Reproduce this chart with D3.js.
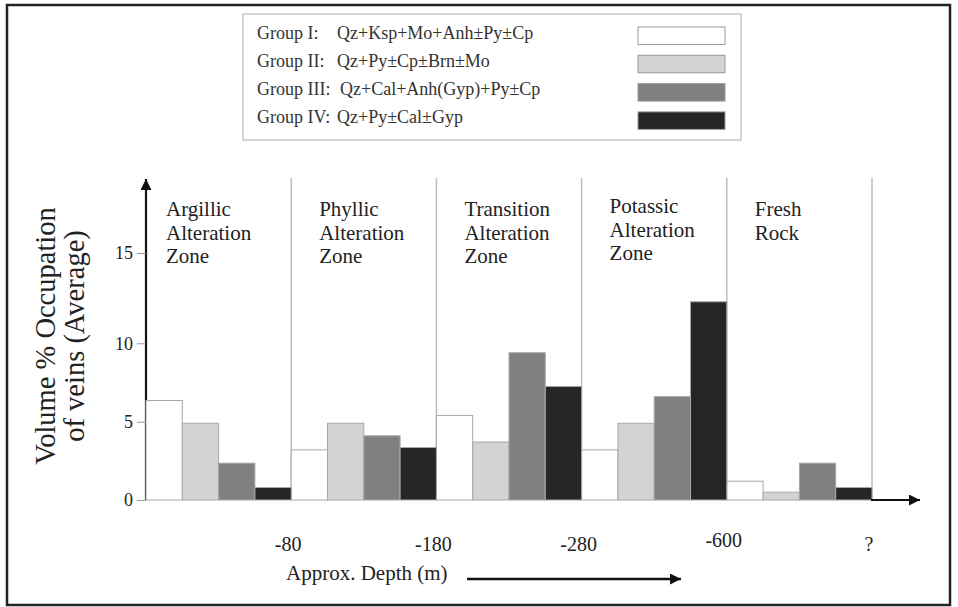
<!DOCTYPE html>
<html>
<head>
<meta charset="utf-8">
<script src="https://cdn.jsdelivr.net/npm/d3@7/dist/d3.min.js"></script>
<style>
  body { margin: 0; background: #fff; }
  svg { display: block; font-family: "Liberation Serif", "Times New Roman", serif; }
</style>
</head>
<body>
<div id="draw"></div>
<script>
var W = 958, H = 607;

// zones along the depth profile
var zones = ['Argillic', 'Phyllic', 'Transition', 'Potassic', 'Fresh'];
var zoneLabels = [
  ['Argillic', 'Alteration', 'Zone'],
  ['Phyllic', 'Alteration', 'Zone'],
  ['Transition', 'Alteration', 'Zone'],
  ['Potassic', 'Alteration', 'Zone'],
  ['Fresh', 'Rock']
];
var depthLabels = ['-80', '-180', '-280', '-600', '?'];

// vein groups
var groups = ['Group I:', 'Group II:', 'Group III:', 'Group IV:'];
var formulas = ['Qz+Ksp+Mo+Anh\u00b1Py\u00b1Cp', 'Qz+Py\u00b1Cp\u00b1Brn\u00b1Mo', 'Qz+Cal+Anh(Gyp)+Py\u00b1Cp', 'Qz+Py\u00b1Cal\u00b1Gyp'];
var groupColors = ['#ffffff', '#d3d3d3', '#808080', '#262626'];

// volume % per zone, one array per group
var group1 = [6.35, 3.2, 5.4, 3.2, 1.2];
var group2 = [4.9, 4.9, 3.7, 4.9, 0.5];
var group3 = [2.35, 4.1, 9.4, 6.6, 2.35];
var group4 = [0.8, 3.35, 7.25, 12.3, 0.8];
var series = [group1, group2, group3, group4];

var yTicks = [0, 5, 10, 15];

var svg = d3.select('#draw').append('svg').attr('width', W).attr('height', H);

// outer frame
svg.append('rect')
  .attr('x', 7).attr('y', 5).attr('width', 943).attr('height', 600)
  .attr('fill', 'none').attr('stroke', '#222').attr('stroke-width', 2.5);

var defs = svg.append('defs');
defs.append('marker')
  .attr('id', 'arrowhead')
  .attr('viewBox', '0 0 10 10')
  .attr('refX', 10).attr('refY', 5)
  .attr('markerUnits', 'userSpaceOnUse')
  .attr('markerWidth', 15).attr('markerHeight', 11)
  .attr('orient', 'auto')
  .append('path').attr('d', 'M0,0 L10,5 L0,10 Z').attr('fill', '#111');

// scales (the original y axis is not evenly spaced above 10)
var x = d3.scaleBand().domain(zones).range([146, 872]).padding(0);
var xg = d3.scaleBand().domain(groups).range([0, x.bandwidth()]).padding(0);
var y = d3.scaleLinear().domain([0, 5, 10, 15]).range([500, 421.7, 343.3, 253]);

// legend
var lg = svg.append('g');
lg.append('rect')
  .attr('x', 243).attr('y', 14).attr('width', 498).attr('height', 126)
  .attr('fill', '#fff').attr('stroke', '#c8c8c8').attr('stroke-width', 1.5);

groups.forEach(function(g, i) {
  var by = 38.5 + i * 28.3;
  lg.append('text').attr('x', 257).attr('y', by)
    .attr('font-size', 18).attr('fill', '#333').text(g);
  lg.append('text').attr('x', i === 2 ? 340 : 337).attr('y', by)
    .attr('font-size', 18).attr('fill', '#333').text(formulas[i]);
  lg.append('rect')
    .attr('x', 638).attr('y', by - 11.5).attr('width', 87).attr('height', 17.5)
    .attr('fill', groupColors[i]).attr('stroke', '#999').attr('stroke-width', 1);
});

// zone dividers
var dividers = zones.map(function(z) { return x(z) + x.bandwidth(); });
svg.selectAll('.divider').data(dividers).enter().append('line')
  .attr('class', 'divider')
  .attr('x1', function(d) { return d; }).attr('x2', function(d) { return d; })
  .attr('y1', 178).attr('y2', y(0))
  .attr('stroke', '#bdbdbd').attr('stroke-width', 1.5);

// zone labels
zones.forEach(function(z, i) {
  var t = svg.append('text')
    .attr('x', x(z) + (i === 0 ? 20 : 28))
    .attr('y', i === 3 ? 213 : 216)
    .attr('font-size', 21).attr('fill', '#222');
  zoneLabels[i].forEach(function(line, j) {
    t.append('tspan').attr('x', x(z) + (i === 0 ? 20 : 28))
      .attr('dy', j === 0 ? 0 : 23.5).text(line);
  });
});

// y axis
svg.append('line')
  .attr('x1', 146).attr('x2', 146).attr('y1', y(0)).attr('y2', 179)
  .attr('stroke', '#111').attr('stroke-width', 2.2)
  .attr('marker-end', 'url(#arrowhead)');

var yAxis = d3.axisLeft(y).tickValues(yTicks).tickSize(9).tickPadding(4);
var ya = svg.append('g').attr('transform', 'translate(146,0)').call(yAxis);
ya.select('.domain').remove();
ya.selectAll('.tick line').attr('stroke', '#999');
ya.selectAll('.tick text')
  .attr('font-family', '"Liberation Serif", serif')
  .attr('font-size', 18).attr('fill', '#222');

// bars
var bars = svg.append('g');
series.forEach(function(vals, gi) {
  bars.selectAll('.bar' + gi).data(vals).enter().append('rect')
    .attr('class', 'bar' + gi)
    .attr('x', function(d, i) { return x(zones[i]) + xg(groups[gi]); })
    .attr('y', function(d) { return y(d); })
    .attr('width', xg.bandwidth())
    .attr('height', function(d) { return y(0) - y(d); })
    .attr('fill', groupColors[gi])
    .attr('stroke', '#a8a8a8').attr('stroke-width', 1);
});

// x axis arrow
svg.append('line')
  .attr('x1', 871).attr('x2', 920).attr('y1', y(0)).attr('y2', y(0))
  .attr('stroke', '#111').attr('stroke-width', 2.2)
  .attr('marker-end', 'url(#arrowhead)');

// depth labels at zone boundaries
svg.selectAll('.depth').data(depthLabels).enter().append('text')
  .attr('class', 'depth')
  .attr('x', function(d, i) { return dividers[i] - 3; })
  .attr('y', function(d, i) { return i === 3 ? 547 : 551; })
  .attr('text-anchor', 'middle')
  .attr('font-size', 20).attr('fill', '#222')
  .text(function(d) { return d; });

svg.append('text')
  .attr('x', 286).attr('y', 580)
  .attr('font-size', 21).attr('fill', '#222')
  .text('Approx. Depth (m)');

svg.append('line')
  .attr('x1', 467).attr('x2', 681).attr('y1', 579).attr('y2', 579)
  .attr('stroke', '#111').attr('stroke-width', 2.5)
  .attr('marker-end', 'url(#arrowhead)');

// y axis title
var yt = svg.append('text')
  .attr('transform', 'translate(55,336) rotate(-90)')
  .attr('text-anchor', 'middle')
  .attr('font-size', 28.5).attr('fill', '#222');
yt.append('tspan').attr('x', 0).attr('dy', 0).text('Volume % Occupation');
yt.append('tspan').attr('x', 0).attr('dy', 29).text('of veins (Average)');
</script>
</body>
</html>
